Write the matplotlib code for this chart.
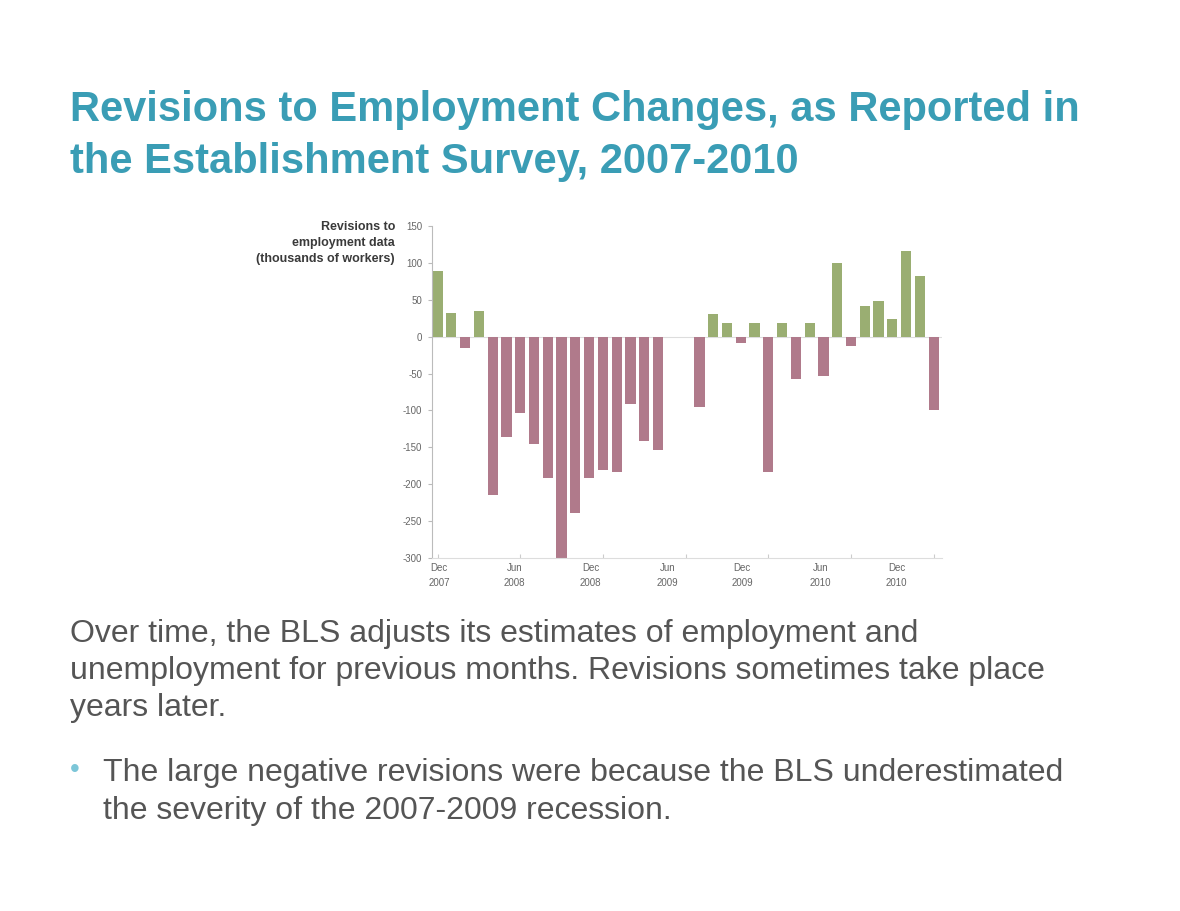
import matplotlib
matplotlib.use("Agg")
import matplotlib.pyplot as plt
import numpy as np

# ---- data ----
months = list(range(37))  # Dec 2007 .. Dec 2010 (monthly)
revisions = [89, 32, -16, 35, -215, -136, -103, -145, -192, -300,
             -239, -192, -181, -184, -91, -141, -154, 0, 0, -96,
             31, 19, -8, 19, -184, 19, -57, 18, -53, 100,
             -12, 42, 49, 24, 116, 82, -100]
x_labels = ["Dec\n2007", "Jun\n2008", "Dec\n2008", "Jun\n2009",
            "Dec\n2009", "Jun\n2010", "Dec\n2010"]
y_ticks = [150, 100, 50, 0, -50, -100, -150, -200, -250, -300]

# ---- layout / style ----
x_label_pos = [0.1, 5.6, 11.1, 16.7, 22.1, 27.8, 33.3]
GREEN = "#9aae72"
RED = "#b07a8b"
TEAL = "#3a9db5"
GRAY = "#555555"
plt.rcParams['font.family'] = ['Liberation Sans', 'DejaVu Sans']

fig = plt.figure(figsize=(11.8, 9.11), dpi=100)
fig.patch.set_facecolor("white")

fig.text(70/1180, 1-121/911, "Revisions to Employment Changes, as Reported in",
         color=TEAL, fontsize=30, fontweight="bold", va="baseline", ha="left")
fig.text(70/1180, 1-173/911, "the Establishment Survey, 2007-2010",
         color=TEAL, fontsize=30, fontweight="bold", va="baseline", ha="left")

body = ["Over time, the BLS adjusts its estimates of employment and",
        "unemployment for previous months. Revisions sometimes take place",
        "years later."]
for i, line in enumerate(body):
    fig.text(70/1180, 1-(642+37*i)/911, line, color=GRAY, fontsize=23,
             va="baseline", ha="left")
fig.text(75/1180, 1-770/911, "\u2022", color="#7cc6d8", fontsize=20,
         va="center", ha="center")
bullet = ["The large negative revisions were because the BLS underestimated",
          "the severity of the 2007-2009 recession."]
for i, line in enumerate(bullet):
    fig.text(103/1180, 1-(781+38*i)/911, line, color=GRAY, fontsize=23,
             va="baseline", ha="left")

# ---- chart ----
left, right = 432/1180, 942/1180
bottom, top = 1-558/911, 1-226/911
ax = fig.add_axes([left, bottom, right-left, top-bottom])
vals = np.array(revisions)
colors = [GREEN if v >= 0 else RED for v in vals]
ax.bar(months, vals, width=0.74, color=colors, zorder=2)
ax.axhline(0, color="#dddddd", lw=0.8, zorder=1)
ax.set_xlim(-0.4, 36.6)
ax.set_ylim(-300, 150)
ax.set_yticks(y_ticks)
ax.set_yticklabels([f"{t:,}" for t in y_ticks], fontsize=7, color="#666666")
ax.tick_params(axis="y", length=3, color="#bbbbbb", pad=4)
ax.set_xticks(range(0, 37, 6))
ax.set_xticklabels([])
ax.tick_params(axis="x", direction="in", length=3, color="#cccccc")
for s in ["top", "right"]:
    ax.spines[s].set_visible(False)
ax.spines["left"].set_color("#bbbbbb")
ax.spines["bottom"].set_color("#dddddd")
for pos, lab in zip(x_label_pos, x_labels):
    ax.text(pos, -307, lab, fontsize=7, color="#666666", ha="center",
            va="top", linespacing=1.65)

fig.text(395/1180, 1-243/911,
         "Revisions to\nemployment data\n(thousands of workers)",
         fontsize=9, fontweight="bold", color="#3a3a3a", ha="right",
         va="center", linespacing=1.45)

fig.savefig("out.png", dpi=100, facecolor="white")
